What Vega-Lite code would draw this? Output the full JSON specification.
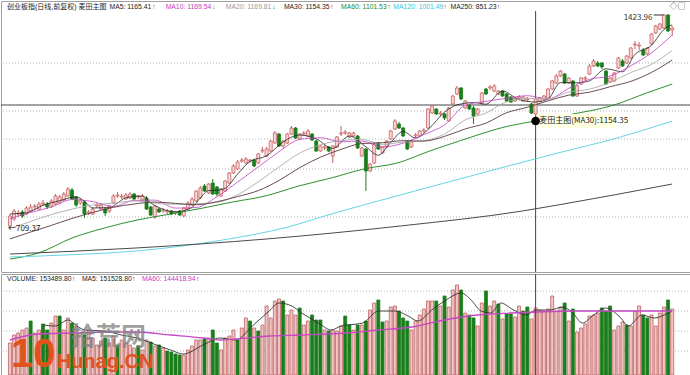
{
"$schema":"https://vega.github.io/schema/vega-lite/v6.json",
"padding":0,
"spacing":0,
"background":"white",
"config":{"view":{"stroke":"#a0a0a0","strokeWidth":1},"text":{"font":"Liberation Sans, Noto Sans CJK SC"}},
"resolve":{"scale":{"x":"independent","y":"independent","color":"independent","strokeWidth":"independent"}},
"datasets":{
"k":[
{"i":0,"o":720,"h":759.8,"l":709.37,"c":753.2,"v":73600,"vd":"u"},
{"i":1,"o":743.2,"h":776.4,"l":736.6,"c":769.8,"v":92000,"vd":"u"},
{"i":2,"o":759.8,"h":773.1,"l":749.9,"c":763.2,"v":96600,"vd":"u"},
{"i":3,"o":766.5,"h":773.1,"l":746.6,"c":753.2,"v":103500,"vd":"u"},
{"i":4,"o":759.8,"h":786.4,"l":756.5,"c":779.8,"v":108100,"vd":"u"},
{"i":5,"o":769.8,"h":793,"l":766.5,"c":783.1,"v":124200,"vd":"d"},
{"i":6,"o":783.1,"h":793,"l":773.1,"c":786.4,"v":96600,"vd":"u"},
{"i":7,"o":776.4,"h":799.7,"l":773.1,"c":793,"v":103500,"vd":"u"},
{"i":8,"o":793,"h":806.3,"l":786.4,"c":796.4,"v":117300,"vd":"d"},
{"i":9,"o":793,"h":799.7,"l":776.4,"c":783.1,"v":103500,"vd":"d"},
{"i":10,"o":786.4,"h":809.6,"l":779.8,"c":803,"v":119600,"vd":"u"},
{"i":11,"o":793,"h":826.2,"l":789.7,"c":819.6,"v":135700,"vd":"u"},
{"i":12,"o":796.4,"h":822.9,"l":793,"c":816.3,"v":135700,"vd":"d"},
{"i":13,"o":806.3,"h":832.9,"l":803,"c":826.2,"v":103500,"vd":"u"},
{"i":14,"o":819.6,"h":849.5,"l":816.3,"c":842.8,"v":131100,"vd":"u"},
{"i":15,"o":839.5,"h":846.2,"l":806.3,"c":809.6,"v":119600,"vd":"d"},
{"i":16,"o":816.3,"h":819.6,"l":783.1,"c":789.7,"v":112700,"vd":"u"},
{"i":17,"o":796.4,"h":813,"l":789.7,"c":806.3,"v":96600,"vd":"u"},
{"i":18,"o":799.7,"h":806.3,"l":746.6,"c":759.8,"v":92000,"vd":"d"},
{"i":19,"o":763.2,"h":773.1,"l":756.5,"c":766.5,"v":103500,"vd":"u"},
{"i":20,"o":759.8,"h":783.1,"l":756.5,"c":776.4,"v":85100,"vd":"u"},
{"i":21,"o":786.4,"h":796.4,"l":779.8,"c":789.7,"v":69000,"vd":"u"},
{"i":22,"o":776.4,"h":796.4,"l":773.1,"c":789.7,"v":78200,"vd":"u"},
{"i":23,"o":776.4,"h":783.1,"l":753.2,"c":763.2,"v":85100,"vd":"d"},
{"i":24,"o":769.8,"h":789.7,"l":763.2,"c":786.4,"v":73600,"vd":"u"},
{"i":25,"o":796.4,"h":826.2,"l":793,"c":819.6,"v":89700,"vd":"u"},
{"i":26,"o":819.6,"h":832.9,"l":813,"c":822.9,"v":69000,"vd":"d"},
{"i":27,"o":816.3,"h":826.2,"l":809.6,"c":819.6,"v":80500,"vd":"u"},
{"i":28,"o":809.6,"h":829.6,"l":806.3,"c":822.9,"v":73600,"vd":"u"},
{"i":29,"o":813,"h":832.9,"l":809.6,"c":826.2,"v":69000,"vd":"u"},
{"i":30,"o":826.2,"h":829.6,"l":806.3,"c":809.6,"v":62100,"vd":"u"},
{"i":31,"o":816.3,"h":822.9,"l":809.6,"c":819.6,"v":66700,"vd":"d"},
{"i":32,"o":806.3,"h":826.2,"l":803,"c":819.6,"v":57500,"vd":"u"},
{"i":33,"o":813,"h":819.6,"l":773.1,"c":776.4,"v":80500,"vd":"u"},
{"i":34,"o":783.1,"h":786.4,"l":753.2,"c":756.5,"v":75900,"vd":"d"},
{"i":35,"o":749.9,"h":789.7,"l":743.2,"c":786.4,"v":66700,"vd":"u"},
{"i":36,"o":776.4,"h":779.8,"l":763.2,"c":766.5,"v":69000,"vd":"d"},
{"i":37,"o":769.8,"h":779.8,"l":763.2,"c":773.1,"v":62100,"vd":"u"},
{"i":38,"o":766.5,"h":776.4,"l":759.8,"c":769.8,"v":55200,"vd":"d"},
{"i":39,"o":769.8,"h":773.1,"l":756.5,"c":759.8,"v":52900,"vd":"d"},
{"i":40,"o":763.2,"h":769.8,"l":756.5,"c":766.5,"v":48300,"vd":"d"},
{"i":41,"o":769.8,"h":773.1,"l":753.2,"c":756.5,"v":46000,"vd":"d"},
{"i":42,"o":753.2,"h":783.1,"l":749.9,"c":779.8,"v":46000,"vd":"u"},
{"i":43,"o":776.4,"h":803,"l":773.1,"c":796.4,"v":57500,"vd":"u"},
{"i":44,"o":789.7,"h":816.3,"l":786.4,"c":809.6,"v":66700,"vd":"u"},
{"i":45,"o":803,"h":839.5,"l":799.7,"c":836.2,"v":80500,"vd":"u"},
{"i":46,"o":813,"h":852.8,"l":809.6,"c":846.2,"v":80500,"vd":"u"},
{"i":47,"o":852.8,"h":859.4,"l":832.9,"c":836.2,"v":82800,"vd":"d"},
{"i":48,"o":829.6,"h":862.8,"l":826.2,"c":859.4,"v":85100,"vd":"u"},
{"i":49,"o":862.8,"h":876,"l":822.9,"c":826.2,"v":103500,"vd":"d"},
{"i":50,"o":849.5,"h":852.8,"l":819.6,"c":826.2,"v":73600,"vd":"d"},
{"i":51,"o":819.6,"h":846.2,"l":816.3,"c":842.8,"v":57500,"vd":"u"},
{"i":52,"o":836.2,"h":872.7,"l":832.9,"c":869.4,"v":85100,"vd":"u"},
{"i":53,"o":862.8,"h":899.3,"l":859.4,"c":896,"v":89700,"vd":"u"},
{"i":54,"o":896,"h":925.8,"l":892.6,"c":919.2,"v":103500,"vd":"u"},
{"i":55,"o":909.2,"h":939.1,"l":905.9,"c":932.5,"v":80500,"vd":"d"},
{"i":56,"o":935.8,"h":945.8,"l":929.2,"c":939.1,"v":108100,"vd":"u"},
{"i":57,"o":929.2,"h":949.1,"l":925.8,"c":942.4,"v":131100,"vd":"u"},
{"i":58,"o":935.8,"h":942.4,"l":929.2,"c":939.1,"v":124200,"vd":"d"},
{"i":59,"o":939.1,"h":942.4,"l":915.9,"c":919.2,"v":108100,"vd":"u"},
{"i":60,"o":929.2,"h":962.4,"l":925.8,"c":959,"v":101200,"vd":"d"},
{"i":61,"o":969,"h":982.3,"l":962.4,"c":972.3,"v":115000,"vd":"u"},
{"i":62,"o":952.4,"h":982.3,"l":949.1,"c":975.6,"v":158700,"vd":"u"},
{"i":63,"o":969,"h":1005.5,"l":965.7,"c":1002.2,"v":131100,"vd":"u"},
{"i":64,"o":995.6,"h":1035.4,"l":992.2,"c":1028.8,"v":170200,"vd":"u"},
{"i":65,"o":1025.4,"h":1028.8,"l":982.3,"c":985.6,"v":174800,"vd":"u"},
{"i":66,"o":985.6,"h":1005.5,"l":979,"c":1002.2,"v":170200,"vd":"d"},
{"i":67,"o":995.6,"h":1028.8,"l":992.2,"c":1025.4,"v":138000,"vd":"u"},
{"i":68,"o":1025.4,"h":1052,"l":1022.1,"c":1045.4,"v":149500,"vd":"u"},
{"i":69,"o":1045.4,"h":1048.7,"l":1008.8,"c":1012.2,"v":138000,"vd":"u"},
{"i":70,"o":1008.8,"h":1028.8,"l":1005.5,"c":1025.4,"v":154100,"vd":"d"},
{"i":71,"o":1025.4,"h":1035.4,"l":1018.8,"c":1028.8,"v":115000,"vd":"u"},
{"i":72,"o":1018.8,"h":1042,"l":1015.5,"c":1035.4,"v":124200,"vd":"u"},
{"i":73,"o":1025.4,"h":1028.8,"l":1002.2,"c":1005.5,"v":138000,"vd":"d"},
{"i":74,"o":1002.2,"h":1005.5,"l":965.7,"c":969,"v":126500,"vd":"d"},
{"i":75,"o":969,"h":988.9,"l":965.7,"c":985.6,"v":126500,"vd":"d"},
{"i":76,"o":979,"h":988.9,"l":972.3,"c":982.3,"v":103500,"vd":"u"},
{"i":77,"o":982.3,"h":985.6,"l":965.7,"c":969,"v":101200,"vd":"d"},
{"i":78,"o":952.4,"h":988.9,"l":929.2,"c":985.6,"v":103500,"vd":"u"},
{"i":79,"o":982.3,"h":1018.8,"l":979,"c":1015.5,"v":101200,"vd":"u"},
{"i":80,"o":1025.4,"h":1052,"l":1018.8,"c":1028.8,"v":112700,"vd":"u"},
{"i":81,"o":1028.8,"h":1038.7,"l":1022.1,"c":1032.1,"v":135700,"vd":"d"},
{"i":82,"o":1015.5,"h":1032.1,"l":1012.2,"c":1028.8,"v":115000,"vd":"d"},
{"i":83,"o":1018.8,"h":1032.1,"l":1015.5,"c":1028.8,"v":103500,"vd":"u"},
{"i":84,"o":1018.8,"h":1022.1,"l":975.6,"c":979,"v":115000,"vd":"d"},
{"i":85,"o":952.4,"h":982.3,"l":949.1,"c":979,"v":115000,"vd":"u"},
{"i":86,"o":975.6,"h":979,"l":836.2,"c":902.6,"v":124200,"vd":"d"},
{"i":87,"o":902.6,"h":929.2,"l":899.3,"c":925.8,"v":149500,"vd":"u"},
{"i":88,"o":929.2,"h":995.6,"l":925.8,"c":992.2,"v":165600,"vd":"u"},
{"i":89,"o":995.6,"h":998.9,"l":972.3,"c":975.6,"v":172500,"vd":"d"},
{"i":90,"o":962.4,"h":985.6,"l":959,"c":982.3,"v":121900,"vd":"d"},
{"i":91,"o":982.3,"h":1005.5,"l":979,"c":1002.2,"v":124200,"vd":"u"},
{"i":92,"o":1008.8,"h":1038.7,"l":1005.5,"c":1035.4,"v":156400,"vd":"u"},
{"i":93,"o":1042,"h":1075.2,"l":1038.7,"c":1068.6,"v":158700,"vd":"u"},
{"i":94,"o":1058.6,"h":1065.3,"l":1042,"c":1045.4,"v":147200,"vd":"d"},
{"i":95,"o":1045.4,"h":1048.7,"l":1015.5,"c":1018.8,"v":131100,"vd":"d"},
{"i":96,"o":1002.2,"h":1005.5,"l":972.3,"c":975.6,"v":124200,"vd":"d"},
{"i":97,"o":982.3,"h":1005.5,"l":979,"c":1002.2,"v":103500,"vd":"u"},
{"i":98,"o":1018.8,"h":1028.8,"l":1012.2,"c":1022.1,"v":124200,"vd":"u"},
{"i":99,"o":1018.8,"h":1038.7,"l":1015.5,"c":1035.4,"v":138000,"vd":"u"},
{"i":100,"o":1035.4,"h":1045.4,"l":1028.8,"c":1038.7,"v":151800,"vd":"u"},
{"i":101,"o":1045.4,"h":1111.8,"l":1042,"c":1108.4,"v":170200,"vd":"u"},
{"i":102,"o":1095.2,"h":1121.7,"l":1091.8,"c":1118.4,"v":170200,"vd":"u"},
{"i":103,"o":1108.4,"h":1111.8,"l":1088.5,"c":1091.8,"v":170200,"vd":"d"},
{"i":104,"o":1091.8,"h":1101.8,"l":1085.2,"c":1095.2,"v":158700,"vd":"u"},
{"i":105,"o":1091.8,"h":1095.2,"l":1071.9,"c":1078.6,"v":181700,"vd":"d"},
{"i":106,"o":1068.6,"h":1115.1,"l":1065.3,"c":1111.8,"v":156400,"vd":"u"},
{"i":107,"o":1125,"h":1154.9,"l":1121.7,"c":1151.6,"v":195500,"vd":"u"},
{"i":108,"o":1158.2,"h":1184.8,"l":1154.9,"c":1178.2,"v":207000,"vd":"u"},
{"i":109,"o":1178.2,"h":1181.5,"l":1138.3,"c":1141.6,"v":195500,"vd":"d"},
{"i":110,"o":1111.8,"h":1138.3,"l":1108.4,"c":1135,"v":142600,"vd":"u"},
{"i":111,"o":1121.7,"h":1125,"l":1105.1,"c":1108.4,"v":138000,"vd":"d"},
{"i":112,"o":1111.8,"h":1118.4,"l":1058.6,"c":1085.2,"v":131100,"vd":"d"},
{"i":113,"o":1091.8,"h":1111.8,"l":1088.5,"c":1108.4,"v":112700,"vd":"u"},
{"i":114,"o":1128.4,"h":1164.9,"l":1125,"c":1161.6,"v":165600,"vd":"u"},
{"i":115,"o":1174.8,"h":1178.2,"l":1154.9,"c":1158.2,"v":193200,"vd":"d"},
{"i":116,"o":1178.2,"h":1188.1,"l":1171.5,"c":1181.5,"v":158700,"vd":"u"},
{"i":117,"o":1168.2,"h":1191.4,"l":1164.9,"c":1184.8,"v":170200,"vd":"u"},
{"i":118,"o":1158.2,"h":1171.5,"l":1154.9,"c":1168.2,"v":163300,"vd":"d"},
{"i":119,"o":1168.2,"h":1171.5,"l":1148.3,"c":1151.6,"v":128800,"vd":"u"},
{"i":120,"o":1158.2,"h":1161.6,"l":1131.7,"c":1135,"v":140300,"vd":"d"},
{"i":121,"o":1148.3,"h":1151.6,"l":1128.4,"c":1131.7,"v":140300,"vd":"d"},
{"i":122,"o":1135,"h":1148.3,"l":1131.7,"c":1145,"v":133400,"vd":"u"},
{"i":123,"o":1145,"h":1154.9,"l":1138.3,"c":1148.3,"v":158700,"vd":"u"},
{"i":124,"o":1135,"h":1151.6,"l":1131.7,"c":1148.3,"v":147200,"vd":"d"},
{"i":125,"o":1138.3,"h":1148.3,"l":1131.7,"c":1141.6,"v":156400,"vd":"d"},
{"i":126,"o":1125,"h":1128.4,"l":1091.8,"c":1095.2,"v":128800,"vd":"u"},
{"i":127,"o":1091.8,"h":1145,"l":1081.9,"c":1141.6,"v":154100,"vd":"u"},
{"i":128,"o":1135,"h":1148.3,"l":1131.7,"c":1145,"v":149500,"vd":"u"},
{"i":129,"o":1141.6,"h":1154.9,"l":1138.3,"c":1151.6,"v":147200,"vd":"u"},
{"i":130,"o":1145,"h":1178.2,"l":1141.6,"c":1174.8,"v":151800,"vd":"u"},
{"i":131,"o":1174.8,"h":1204.7,"l":1171.5,"c":1201.4,"v":181700,"vd":"u"},
{"i":132,"o":1194.8,"h":1224.6,"l":1191.4,"c":1218,"v":147200,"vd":"u"},
{"i":133,"o":1218,"h":1237.9,"l":1214.7,"c":1234.6,"v":156400,"vd":"u"},
{"i":134,"o":1224.6,"h":1228,"l":1191.4,"c":1194.8,"v":165600,"vd":"d"},
{"i":135,"o":1194.8,"h":1214.7,"l":1191.4,"c":1211.4,"v":124200,"vd":"u"},
{"i":136,"o":1201.4,"h":1204.7,"l":1148.3,"c":1151.6,"v":151800,"vd":"d"},
{"i":137,"o":1151.6,"h":1188.1,"l":1148.3,"c":1184.8,"v":98900,"vd":"u"},
{"i":138,"o":1191.4,"h":1214.7,"l":1188.1,"c":1211.4,"v":108100,"vd":"u"},
{"i":139,"o":1208,"h":1218,"l":1201.4,"c":1211.4,"v":117300,"vd":"u"},
{"i":140,"o":1224.6,"h":1257.8,"l":1221.3,"c":1251.2,"v":135700,"vd":"u"},
{"i":141,"o":1251.2,"h":1274.4,"l":1247.9,"c":1267.8,"v":138000,"vd":"u"},
{"i":142,"o":1261.2,"h":1267.8,"l":1247.9,"c":1251.2,"v":142600,"vd":"u"},
{"i":143,"o":1261.2,"h":1264.5,"l":1241.2,"c":1247.9,"v":154100,"vd":"d"},
{"i":144,"o":1234.6,"h":1237.9,"l":1188.1,"c":1191.4,"v":147200,"vd":"d"},
{"i":145,"o":1198.1,"h":1214.7,"l":1194.8,"c":1211.4,"v":158700,"vd":"d"},
{"i":146,"o":1201.4,"h":1231.3,"l":1198.1,"c":1228,"v":103500,"vd":"u"},
{"i":147,"o":1244.6,"h":1281.1,"l":1241.2,"c":1277.8,"v":112700,"vd":"u"},
{"i":148,"o":1267.8,"h":1274.4,"l":1247.9,"c":1251.2,"v":121900,"vd":"u"},
{"i":149,"o":1261.2,"h":1287.7,"l":1257.8,"c":1284.4,"v":115000,"vd":"d"},
{"i":150,"o":1277.8,"h":1314.3,"l":1274.4,"c":1311,"v":112700,"vd":"u"},
{"i":151,"o":1320.9,"h":1334.2,"l":1307.6,"c":1324.2,"v":147200,"vd":"u"},
{"i":152,"o":1317.6,"h":1330.9,"l":1304.3,"c":1320.9,"v":158700,"vd":"u"},
{"i":153,"o":1304.3,"h":1311,"l":1284.4,"c":1287.7,"v":138000,"vd":"d"},
{"i":154,"o":1291,"h":1314.3,"l":1287.7,"c":1311,"v":131100,"vd":"d"},
{"i":155,"o":1324.2,"h":1360.8,"l":1320.9,"c":1357.4,"v":138000,"vd":"u"},
{"i":156,"o":1360.8,"h":1387.3,"l":1357.4,"c":1384,"v":112700,"vd":"u"},
{"i":157,"o":1374,"h":1394,"l":1370.7,"c":1390.6,"v":142600,"vd":"u"},
{"i":158,"o":1377.4,"h":1423.96,"l":1374,"c":1420.5,"v":156400,"vd":"u"},
{"i":159,"o":1420.5,"h":1423.8,"l":1364.1,"c":1367.4,"v":172500,"vd":"d"},
{"i":160,"o":1370.7,"h":1384,"l":1350.8,"c":1377.4,"v":151800,"vd":"u"}
],
"ma":[
{"m":"MA5","i":0,"p":760},{"m":"MA5","i":4,"p":763.8},{"m":"MA5","i":8,"p":789},{"m":"MA5","i":12,"p":803.7},{"m":"MA5","i":16,"p":817},{"m":"MA5","i":18,"p":801.7},{"m":"MA5","i":20,"p":779.8},{"m":"MA5","i":24,"p":781},{"m":"MA5","i":26,"p":796.4},{"m":"MA5","i":28,"p":814},{"m":"MA5","i":32,"p":819.6},{"m":"MA5","i":34,"p":796.4},{"m":"MA5","i":36,"p":781},{"m":"MA5","i":40,"p":767},{"m":"MA5","i":44,"p":781.8},{"m":"MA5","i":46,"p":813.6},{"m":"MA5","i":48,"p":837.5},{"m":"MA5","i":50,"p":838.9},{"m":"MA5","i":52,"p":844.8},{"m":"MA5","i":55,"p":892.6},{"m":"MA5","i":58,"p":934.5},{"m":"MA5","i":62,"p":953},{"m":"MA5","i":66,"p":999},{"m":"MA5","i":70,"p":1022},{"m":"MA5","i":74,"p":1009},{"m":"MA5","i":78,"p":977.6},{"m":"MA5","i":82,"p":1018.8},{"m":"MA5","i":86,"p":983},{"m":"MA5","i":89,"p":955},{"m":"MA5","i":92,"p":997.6},{"m":"MA5","i":95,"p":1034},{"m":"MA5","i":98,"p":1012},{"m":"MA5","i":101,"p":1040},{"m":"MA5","i":105,"p":1098},{"m":"MA5","i":108,"p":1122},{"m":"MA5","i":112,"p":1129.7},{"m":"MA5","i":115,"p":1124.4},{"m":"MA5","i":119,"p":1168},{"m":"MA5","i":123,"p":1139.6},{"m":"MA5","i":127,"p":1131.7},{"m":"MA5","i":130,"p":1141.6},{"m":"MA5","i":133,"p":1196},{"m":"MA5","i":137,"p":1195.5},{"m":"MA5","i":140,"p":1202},{"m":"MA5","i":144,"p":1242},{"m":"MA5","i":148,"p":1232},{"m":"MA5","i":151,"p":1289.7},{"m":"MA5","i":155,"p":1320},{"m":"MA5","i":158,"p":1372.7},{"m":"MA5","i":160,"p":1388},
{"m":"MA10","i":0,"p":745},{"m":"MA10","i":5,"p":765},{"m":"MA10","i":10,"p":783},{"m":"MA10","i":15,"p":807.7},{"m":"MA10","i":20,"p":801},{"m":"MA10","i":25,"p":784.8},{"m":"MA10","i":30,"p":805},{"m":"MA10","i":35,"p":806},{"m":"MA10","i":40,"p":779.4},{"m":"MA10","i":45,"p":781.4},{"m":"MA10","i":50,"p":817.3},{"m":"MA10","i":55,"p":865.8},{"m":"MA10","i":60,"p":916.2},{"m":"MA10","i":65,"p":966.4},{"m":"MA10","i":70,"p":1007.5},{"m":"MA10","i":75,"p":1013},{"m":"MA10","i":80,"p":999.6},{"m":"MA10","i":85,"p":1001.9},{"m":"MA10","i":90,"p":982.3},{"m":"MA10","i":95,"p":995},{"m":"MA10","i":100,"p":1023.8},{"m":"MA10","i":105,"p":1055.8},{"m":"MA10","i":110,"p":1120.8},{"m":"MA10","i":115,"p":1134},{"m":"MA10","i":120,"p":1144},{"m":"MA10","i":125,"p":1152.6},{"m":"MA10","i":130,"p":1141.6},{"m":"MA10","i":135,"p":1176.8},{"m":"MA10","i":140,"p":1207},{"m":"MA10","i":145,"p":1218},{"m":"MA10","i":150,"p":1252},{"m":"MA10","i":155,"p":1295},{"m":"MA10","i":160,"p":1354},
{"m":"MA20","i":0,"p":712},{"m":"MA20","i":5,"p":735},{"m":"MA20","i":10,"p":758},{"m":"MA20","i":15,"p":776},{"m":"MA20","i":20,"p":790},{"m":"MA20","i":25,"p":796},{"m":"MA20","i":30,"p":803},{"m":"MA20","i":35,"p":795.4},{"m":"MA20","i":40,"p":792.2},{"m":"MA20","i":45,"p":793.7},{"m":"MA20","i":50,"p":798.4},{"m":"MA20","i":55,"p":823.6},{"m":"MA20","i":60,"p":866.8},{"m":"MA20","i":65,"p":916.1},{"m":"MA20","i":70,"p":961.9},{"m":"MA20","i":75,"p":989.7},{"m":"MA20","i":80,"p":1003.6},{"m":"MA20","i":85,"p":1007.5},{"m":"MA20","i":90,"p":991},{"m":"MA20","i":95,"p":998.5},{"m":"MA20","i":100,"p":1003},{"m":"MA20","i":105,"p":1025.4},{"m":"MA20","i":110,"p":1072.3},{"m":"MA20","i":115,"p":1094.9},{"m":"MA20","i":120,"p":1132.4},{"m":"MA20","i":125,"p":1143.3},{"m":"MA20","i":130,"p":1142.8},{"m":"MA20","i":135,"p":1164.7},{"m":"MA20","i":140,"p":1174.3},{"m":"MA20","i":145,"p":1197.4},{"m":"MA20","i":150,"p":1229.5},{"m":"MA20","i":155,"p":1256.5},{"m":"MA20","i":160,"p":1303},
{"m":"MA30","i":0,"p":677},{"m":"MA30","i":5,"p":700},{"m":"MA30","i":10,"p":722},{"m":"MA30","i":15,"p":745},{"m":"MA30","i":20,"p":765},{"m":"MA30","i":25,"p":782},{"m":"MA30","i":30,"p":793},{"m":"MA30","i":35,"p":799.5},{"m":"MA30","i":40,"p":795.1},{"m":"MA30","i":45,"p":790.7},{"m":"MA30","i":50,"p":800.6},{"m":"MA30","i":55,"p":817.7},{"m":"MA30","i":60,"p":837.6},{"m":"MA30","i":65,"p":871.2},{"m":"MA30","i":70,"p":913.7},{"m":"MA30","i":75,"p":948.4},{"m":"MA30","i":80,"p":974.4},{"m":"MA30","i":85,"p":993.8},{"m":"MA30","i":90,"p":996.5},{"m":"MA30","i":95,"p":1003.3},{"m":"MA30","i":100,"p":1001.9},{"m":"MA30","i":105,"p":1017.6},{"m":"MA30","i":110,"p":1042.3},{"m":"MA30","i":115,"p":1061.6},{"m":"MA30","i":120,"p":1096.2},{"m":"MA30","i":125,"p":1114.1},{"m":"MA30","i":130,"p":1135.5},{"m":"MA30","i":135,"p":1154.5},{"m":"MA30","i":140,"p":1164.2},{"m":"MA30","i":145,"p":1182.5},{"m":"MA30","i":150,"p":1200.2},{"m":"MA30","i":155,"p":1229.9},{"m":"MA30","i":160,"p":1271},
{"m":"MA60","i":0,"p":610.4},{"m":"MA60","i":6.9,"p":630.4},{"m":"MA60","i":15,"p":680.2},{"m":"MA60","i":22.86,"p":713.4},{"m":"MA60","i":30.71,"p":739.9},{"m":"MA60","i":38.81,"p":759.8},{"m":"MA60","i":46.67,"p":779.8},{"m":"MA60","i":53.81,"p":799.7},{"m":"MA60","i":61.67,"p":819.6},{"m":"MA60","i":69.76,"p":852.8},{"m":"MA60","i":77.62,"p":879.4},{"m":"MA60","i":85.48,"p":909.2},{"m":"MA60","i":93.57,"p":929.2},{"m":"MA60","i":101.43,"p":969},{"m":"MA60","i":108.57,"p":1002.2},{"m":"MA60","i":120.48,"p":1052},{"m":"MA60","i":126.9,"p":1068.6},{"m":"MA60","i":134.76,"p":1088.5},{"m":"MA60","i":145.95,"p":1121.7},{"m":"MA60","i":153.81,"p":1161.6},{"m":"MA60","i":160,"p":1191.4},
{"m":"MA120","i":0,"p":617.1},{"m":"MA120","i":13.33,"p":623.7},{"m":"MA120","i":30.48,"p":637},{"m":"MA120","i":51.43,"p":673.5},{"m":"MA120","i":67.14,"p":716.7},{"m":"MA120","i":77.62,"p":759.8},{"m":"MA120","i":94.29,"p":822.9},{"m":"MA120","i":108.57,"p":876},{"m":"MA120","i":132.38,"p":962.4},{"m":"MA120","i":146.67,"p":1012.2},{"m":"MA120","i":160,"p":1068.6},
{"m":"MA250","i":0,"p":627},{"m":"MA250","i":30.48,"p":647},{"m":"MA250","i":61.9,"p":676.8},{"m":"MA250","i":94.29,"p":720},{"m":"MA250","i":123.81,"p":769.8},{"m":"MA250","i":132.38,"p":789.7},{"m":"MA250","i":160,"p":859.4}
],
"vma":[
{"m":"V5","i":8.1,"v":115000},{"m":"V5","i":10.95,"v":112700},{"m":"V5","i":14.05,"v":126500},{"m":"V5","i":16.19,"v":112700},{"m":"V5","i":18.1,"v":103500},{"m":"V5","i":22.86,"v":101200},{"m":"V5","i":26.9,"v":92000},{"m":"V5","i":30.71,"v":85100},{"m":"V5","i":34.76,"v":71300},{"m":"V5","i":38.81,"v":57500},{"m":"V5","i":41.9,"v":48300},{"m":"V5","i":46.67,"v":69000},{"m":"V5","i":50.71,"v":85100},{"m":"V5","i":54.52,"v":80500},{"m":"V5","i":58.57,"v":112700},{"m":"V5","i":62.62,"v":147200},{"m":"V5","i":65,"v":165600},{"m":"V5","i":68.1,"v":158700},{"m":"V5","i":70.48,"v":142600},{"m":"V5","i":74.52,"v":119600},{"m":"V5","i":77.62,"v":103500},{"m":"V5","i":80,"v":112700},{"m":"V5","i":85.24,"v":119600},{"m":"V5","i":89.05,"v":147200},{"m":"V5","i":93.1,"v":147200},{"m":"V5","i":96.19,"v":135700},{"m":"V5","i":98.57,"v":124200},{"m":"V5","i":101.9,"v":149500},{"m":"V5","i":105,"v":170200},{"m":"V5","i":109.05,"v":188600},{"m":"V5","i":111.43,"v":172500},{"m":"V5","i":113.81,"v":147200},{"m":"V5","i":116.19,"v":142600},{"m":"V5","i":118.57,"v":165600},{"m":"V5","i":121.67,"v":149500},{"m":"V5","i":124.76,"v":138000},{"m":"V5","i":127.14,"v":149500},{"m":"V5","i":130.48,"v":149500},{"m":"V5","i":133.57,"v":156400},{"m":"V5","i":135.95,"v":142600},{"m":"V5","i":138.33,"v":119600},{"m":"V5","i":140.71,"v":135700},{"m":"V5","i":143.81,"v":154100},{"m":"V5","i":147.14,"v":135700},{"m":"V5","i":149.52,"v":112700},{"m":"V5","i":150.95,"v":124200},{"m":"V5","i":152.62,"v":138000},{"m":"V5","i":155.71,"v":131100},{"m":"V5","i":158.1,"v":138000},{"m":"V5","i":160,"v":147200},
{"m":"V60","i":0,"v":80500},{"m":"V60","i":6.9,"v":94300},{"m":"V60","i":15,"v":96600},{"m":"V60","i":22.86,"v":98900},{"m":"V60","i":30.71,"v":98900},{"m":"V60","i":38.81,"v":92000},{"m":"V60","i":46.67,"v":85100},{"m":"V60","i":50.71,"v":80500},{"m":"V60","i":54.52,"v":82800},{"m":"V60","i":62.62,"v":89700},{"m":"V60","i":70.48,"v":92000},{"m":"V60","i":81.19,"v":96600},{"m":"V60","i":89.05,"v":103500},{"m":"V60","i":97.14,"v":110400},{"m":"V60","i":105,"v":126500},{"m":"V60","i":112.86,"v":138000},{"m":"V60","i":120.95,"v":142600},{"m":"V60","i":127.14,"v":144900},{"m":"V60","i":136.67,"v":147200},{"m":"V60","i":144.76,"v":147200},{"m":"V60","i":152.62,"v":147200},{"m":"V60","i":160,"v":147200}
]
},
"vconcat":[
{
"width":690,"height":271,
"resolve":{"scale":{"color":"independent","strokeWidth":"independent"}},
"layer":[
{"data":{"values":[{"p":1261.2},{"p":1101.8},{"p":1008.8},{"p":909.2},{"p":749.9}]},
 "mark":{"type":"rule","color":"#b4b4b4","strokeWidth":1,"strokeDash":[1,2]},
 "encoding":{"y":{"field":"p","type":"quantitative","scale":{"domain":[567.3,1467],"nice":false,"zero":false},"axis":null}}},
{"data":{"values":[{"p":1121.7}]},
 "mark":{"type":"rule","color":"#444444","strokeWidth":1},
 "encoding":{"y":{"field":"p","type":"quantitative","scale":{"domain":[567.3,1467],"nice":false,"zero":false},"axis":null}}},
{"data":{"values":[{"i":127}]},
 "mark":{"type":"rule","color":"#444444","strokeWidth":1},
 "encoding":{"x":{"field":"i","type":"quantitative","scale":{"domain":[-0.952,163.33],"nice":false,"zero":false},"axis":null},
  "y":{"datum":1433.8,"type":"quantitative","scale":{"domain":[567.3,1467],"nice":false,"zero":false},"axis":null},"y2":{"datum":567.3}}},
{"data":{"name":"k"},
 "mark":{"type":"rule","strokeWidth":1},
 "encoding":{"x":{"field":"i","type":"quantitative","scale":{"domain":[-0.952,163.33],"nice":false,"zero":false},"axis":null},
  "y":{"field":"l","type":"quantitative","scale":{"domain":[567.3,1467],"nice":false,"zero":false},"axis":null},"y2":{"field":"h"},
  "color":{"condition":{"test":"datum.c >= datum.o","value":"#c96464"},"value":"#1b7d1b"}}},
{"data":{"name":"k"},
 "mark":{"type":"bar","width":3,"strokeWidth":0.8},
 "encoding":{"x":{"field":"i","type":"quantitative","scale":{"domain":[-0.952,163.33],"nice":false,"zero":false},"axis":null},
  "y":{"field":"o","type":"quantitative","scale":{"domain":[567.3,1467],"nice":false,"zero":false},"axis":null},"y2":{"field":"c"},
  "fill":{"condition":{"test":"datum.c >= datum.o","value":"#f8d6d6"},"value":"#1b7d1b"},
  "stroke":{"condition":{"test":"datum.c >= datum.o","value":"#c96464"},"value":"#1b7d1b"}}},
{"data":{"name":"ma"},
 "mark":{"type":"line","interpolate":"monotone"},
 "encoding":{"x":{"field":"i","type":"quantitative","scale":{"domain":[-0.952,163.33],"nice":false,"zero":false},"axis":null},
  "y":{"field":"p","type":"quantitative","scale":{"domain":[567.3,1467],"nice":false,"zero":false},"axis":null},
  "color":{"field":"m","type":"nominal","scale":{"domain":["MA5","MA10","MA20","MA30","MA60","MA120","MA250"],"range":["#222222","#c448c4","#a8a8a8","#5a3a3a","#1e851e","#62d2e4","#4a4a4a"]},"legend":null},
  "strokeWidth":{"field":"m","type":"nominal","scale":{"domain":["MA5","MA10","MA20","MA30","MA60","MA120","MA250"],"range":[0.8,1,1,1,3,1.3,1.2]},"legend":null}}},
{"data":{"values":[{"i":155.5,"i2":157.9,"p":1420.5}]},
 "mark":{"type":"rule","color":"#333333","strokeWidth":1},
 "encoding":{"x":{"field":"i","type":"quantitative","scale":{"domain":[-0.952,163.33],"nice":false,"zero":false},"axis":null},"x2":{"field":"i2"},
  "y":{"field":"p","type":"quantitative","scale":{"domain":[567.3,1467],"nice":false,"zero":false},"axis":null}}},
{"data":{"values":[{"i1":127.6,"i2":146.2,"p1":1091.8,"p2":1045.4}]},
 "mark":{"type":"rect","color":"#ffffe1"},
 "encoding":{"x":{"field":"i1","type":"quantitative","scale":{"domain":[-0.952,163.33],"nice":false,"zero":false},"axis":null},"x2":{"field":"i2"},
  "y":{"field":"p1","type":"quantitative","scale":{"domain":[567.3,1467],"nice":false,"zero":false},"axis":null},"y2":{"field":"p2"}}},
{"data":{"values":[{"i":127,"p":1068.6}]},
 "mark":{"type":"point","filled":true,"color":"#000000","size":75,"opacity":1},
 "encoding":{"x":{"field":"i","type":"quantitative","scale":{"domain":[-0.952,163.33],"nice":false,"zero":false},"axis":null},
  "y":{"field":"p","type":"quantitative","scale":{"domain":[567.3,1467],"nice":false,"zero":false},"axis":null}}},
{"data":{"values":[{"t":"麦田主图(MA30):1154.35","i":127.9,"p":1068.6},{"t":"←709.37","i":-0.476,"p":710}]},
 "mark":{"type":"text","align":"left","baseline":"middle","fontSize":8,"color":"#222222","font":"Noto Sans CJK SC"},
 "encoding":{"x":{"field":"i","type":"quantitative","scale":{"domain":[-0.952,163.33],"nice":false,"zero":false},"axis":null},
  "y":{"field":"p","type":"quantitative","scale":{"domain":[567.3,1467],"nice":false,"zero":false},"axis":null},"text":{"field":"t"}}},
{"data":{"values":[{"t":"1423.96","i":155.24,"p":1409},{"t":"◇□","i":163.2,"p":1447}]},
 "mark":{"type":"text","align":"right","baseline":"middle","fontSize":8,"color":"#333333","font":"Noto Sans CJK SC"},
 "encoding":{"x":{"field":"i","type":"quantitative","scale":{"domain":[-0.952,163.33],"nice":false,"zero":false},"axis":null},
  "y":{"field":"p","type":"quantitative","scale":{"domain":[567.3,1467],"nice":false,"zero":false},"axis":null},"text":{"field":"t"}}},
{"data":{"values":[{"t":"创业板指(日线,前复权) 麦田主图","i":-0.714,"g":"dark"}]},
 "mark":{"type":"text","align":"left","baseline":"middle","fontSize":7},
 "encoding":{"x":{"field":"i","type":"quantitative","scale":{"domain":[-0.952,163.33],"nice":false,"zero":false},"axis":null},
  "y":{"datum":1447,"type":"quantitative","scale":{"domain":[567.3,1467],"nice":false,"zero":false},"axis":null},"text":{"field":"t"},
  "color":{"value":"#222222"}}},
{"data":{"values":[
 {"t":"MA5: 1165.41","i":24.05,"g":"dark"},{"t":"↑","i":34.4,"g":"up"},
 {"t":"MA10: 1169.54","i":37.62,"g":"ma10"},{"t":"↓","i":48.81,"g":"down"},
 {"t":"MA20: 1169.81","i":52.14,"g":"ma20"},{"t":"↓","i":63.33,"g":"down"},
 {"t":"MA30: 1154.35","i":66.19,"g":"dark"},{"t":"↑","i":77.38,"g":"up"},
 {"t":"MA60: 1101.53","i":80.0,"g":"ma60"},{"t":"↑","i":91.19,"g":"up"},
 {"t":"MA120: 1001.49","i":92.62,"g":"ma120"},{"t":"↑","i":104.76,"g":"up"},
 {"t":"MA250: 851.23","i":106.43,"g":"dark"},{"t":"↑","i":117.62,"g":"up"}]},
 "mark":{"type":"text","align":"left","baseline":"middle","fontSize":6.8},
 "encoding":{"x":{"field":"i","type":"quantitative","scale":{"domain":[-0.952,163.33],"nice":false,"zero":false},"axis":null},
  "y":{"datum":1447,"type":"quantitative","scale":{"domain":[567.3,1467],"nice":false,"zero":false},"axis":null},"text":{"field":"t"},
  "color":{"field":"g","type":"nominal","scale":{"domain":["dark","ma10","ma20","ma60","ma120","up","down"],"range":["#222222","#c43cc4","#9a9a9a","#1f8a1f","#3cc4dc","#d00000","#1f9a1f"]},"legend":null}}}
]
},
{
"width":690,"height":104,
"resolve":{"scale":{"color":"independent","strokeWidth":"independent"}},
"layer":[
{"data":{"values":[{"v":193200},{"v":147200},{"v":101200},{"v":55200}]},
 "mark":{"type":"rule","color":"#b4b4b4","strokeWidth":1,"strokeDash":[1,2]},
 "encoding":{"y":{"field":"v","type":"quantitative","scale":{"domain":[-6900,232300],"nice":false,"zero":false},"axis":null}}},
{"data":{"name":"k"},
 "mark":{"type":"bar","width":3,"strokeWidth":0.8},
 "encoding":{"x":{"field":"i","type":"quantitative","scale":{"domain":[-0.952,163.33],"nice":false,"zero":false},"axis":null},
  "y":{"field":"v","type":"quantitative","scale":{"domain":[-6900,232300],"nice":false,"zero":false},"axis":null},"y2":{"datum":0},
  "fill":{"condition":{"test":"datum.vd == 'u'","value":"#f2c4c4"},"value":"#1b7d1b"},
  "stroke":{"condition":{"test":"datum.vd == 'u'","value":"#bb6262"},"value":"#1b7d1b"}}},
{"data":{"name":"vma"},
 "mark":{"type":"line","interpolate":"monotone"},
 "encoding":{"x":{"field":"i","type":"quantitative","scale":{"domain":[-0.952,163.33],"nice":false,"zero":false},"axis":null},
  "y":{"field":"v","type":"quantitative","scale":{"domain":[-6900,232300],"nice":false,"zero":false},"axis":null},
  "color":{"field":"m","type":"nominal","scale":{"domain":["V5","V60"],"range":["#333333","#c448c4"]},"legend":null},
  "strokeWidth":{"field":"m","type":"nominal","scale":{"domain":["V5","V60"],"range":[0.9,1.3]},"legend":null}}},
{"data":{"values":[{"i":127}]},
 "mark":{"type":"rule","color":"#444444","strokeWidth":1},
 "encoding":{"x":{"field":"i","type":"quantitative","scale":{"domain":[-0.952,163.33],"nice":false,"zero":false},"axis":null}}},
{"data":{"values":[{"t":"拾荒网","i":23.8,"v":87400}]},
 "mark":{"type":"text","align":"center","baseline":"middle","fontSize":25,"fontWeight":"bold","color":"#808080","opacity":0.75,"font":"Noto Sans CJK SC"},
 "encoding":{"x":{"field":"i","type":"quantitative","scale":{"domain":[-0.952,163.33],"nice":false,"zero":false},"axis":null},
  "y":{"field":"v","type":"quantitative","scale":{"domain":[-6900,232300],"nice":false,"zero":false},"axis":null},"text":{"field":"t"}}},
{"data":{"values":[{"t":"10","i":0.24,"v":0}]},
 "mark":{"type":"text","align":"left","baseline":"bottom","fontSize":40,"fontWeight":"bold","color":"#e2521d","font":"Liberation Sans"},
 "encoding":{"x":{"field":"i","type":"quantitative","scale":{"domain":[-0.952,163.33],"nice":false,"zero":false},"axis":null},
  "y":{"field":"v","type":"quantitative","scale":{"domain":[-6900,232300],"nice":false,"zero":false},"axis":null},"text":{"field":"t"}}},
{"data":{"values":[{"t":"Hunag.CN","i":11.3,"v":16100}]},
 "mark":{"type":"text","align":"left","baseline":"alphabetic","fontSize":20,"fontWeight":"bold","color":"#e2521d","font":"Liberation Sans"},
 "encoding":{"x":{"field":"i","type":"quantitative","scale":{"domain":[-0.952,163.33],"nice":false,"zero":false},"axis":null},
  "y":{"field":"v","type":"quantitative","scale":{"domain":[-6900,232300],"nice":false,"zero":false},"axis":null},"text":{"field":"t"}}},
{"data":{"values":[
 {"t":"VOLUME: 153489.80","i":-0.714,"g":"dark"},{"t":"↑","i":15.0,"g":"up"},
 {"t":"MA5: 151528.80","i":17.38,"g":"dark"},{"t":"↑","i":29.52,"g":"up"},
 {"t":"MA60: 144418.94","i":31.9,"g":"mag"},{"t":"↑","i":45.0,"g":"up"}]},
 "mark":{"type":"text","align":"left","baseline":"middle","fontSize":6.8},
 "encoding":{"x":{"field":"i","type":"quantitative","scale":{"domain":[-0.952,163.33],"nice":false,"zero":false},"axis":null},
  "y":{"datum":220800,"type":"quantitative","scale":{"domain":[-6900,232300],"nice":false,"zero":false},"axis":null},"text":{"field":"t"},
  "color":{"field":"g","type":"nominal","scale":{"domain":["dark","mag","up"],"range":["#222222","#c43cc4","#d00000"]},"legend":null}}}
]
}
]
}
